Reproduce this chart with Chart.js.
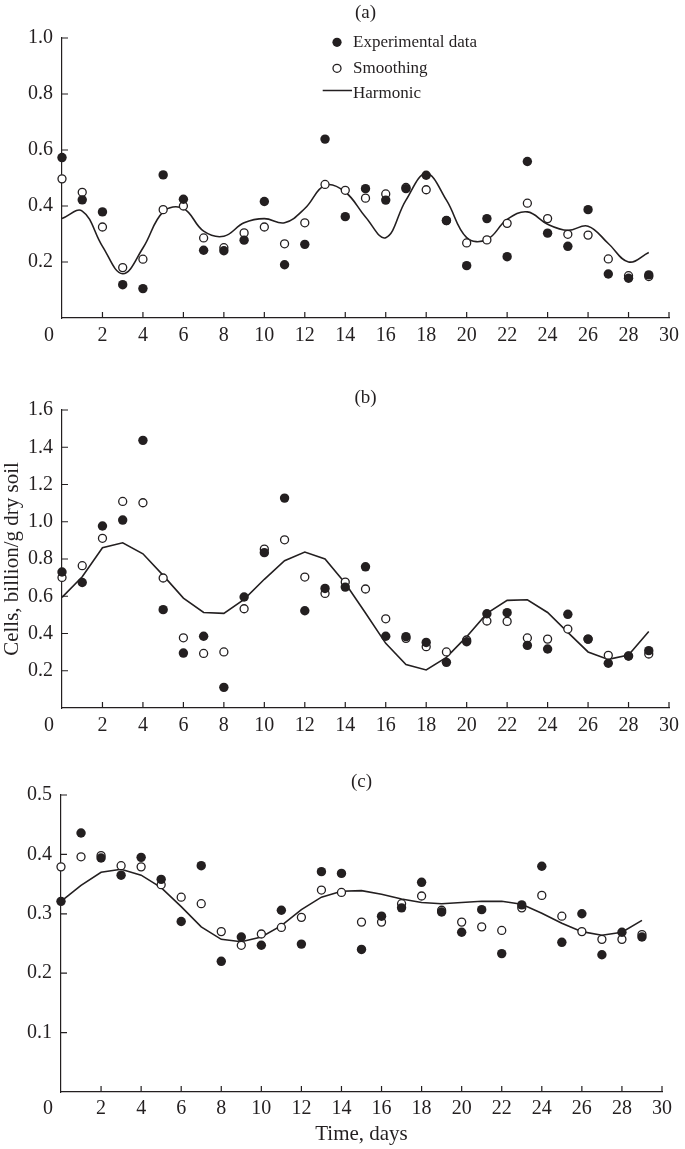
<!DOCTYPE html>
<html>
<head>
<meta charset="utf-8">
<script src="https://cdn.jsdelivr.net/npm/chart.js@4.4.1/dist/chart.umd.min.js"></script>
<style>
html,body{margin:0;padding:0;background:#fff;width:685px;height:1149px;overflow:hidden}
canvas{position:absolute;left:0;top:0}
</style>
</head>
<body>
<canvas id="ca" width="685" height="1149" style="width:685px;height:1149px"></canvas>
<canvas id="cb" width="685" height="1149" style="width:685px;height:1149px"></canvas>
<canvas id="cc" width="685" height="1149" style="width:685px;height:1149px"></canvas>
<script>
// ---------- data ----------
const days = [0,1,2,3,4,5,6,7,8,9,10,11,12,13,14,15,16,17,18,19,20,21,22,23,24,25,26,27,28,29];
const xTicks = [0,2,4,6,8,10,12,14,16,18,20,22,24,26,28,30];
const seriesNames = ['Experimental data', 'Smoothing', 'Harmonic'];
const panelLabels = ['(a)', '(b)', '(c)'];
const yTitle = 'Cells, billion/g dry soil';
const xTitle = 'Time, days';

const yTicksA = [0, 0.2, 0.4, 0.6, 0.8, 1.0];
const yTicksB = [0, 0.2, 0.4, 0.6, 0.8, 1.0, 1.2, 1.4, 1.6];
const yTicksC = [0, 0.1, 0.2, 0.3, 0.4, 0.5];

const aExp = [0.573,0.422,0.379,0.119,0.105,0.511,0.424,0.242,0.240,0.278,0.416,0.190,0.263,0.639,0.362,0.462,0.421,0.462,0.510,0.348,0.187,0.355,0.219,0.559,0.303,0.256,0.387,0.157,0.142,0.154];
const aSmooth = [0.497,0.449,0.325,0.180,0.210,0.387,0.400,0.286,0.251,0.304,0.325,0.265,0.340,0.477,0.456,0.428,0.443,0.466,0.458,0.348,0.268,0.279,0.338,0.410,0.355,0.299,0.296,0.211,0.151,0.148];
const aHarm = [0.355,0.382,0.256,0.158,0.250,0.379,0.391,0.310,0.292,0.340,0.355,0.340,0.391,0.474,0.450,0.361,0.287,0.421,0.516,0.421,0.287,0.280,0.352,0.379,0.335,0.313,0.328,0.266,0.200,0.234];

const bExp = [0.730,0.674,0.977,1.009,1.437,0.528,0.295,0.385,0.111,0.596,0.834,1.127,0.522,0.642,0.649,0.758,0.385,0.383,0.352,0.245,0.356,0.506,0.512,0.336,0.317,0.503,0.370,0.240,0.279,0.308];
const bSmooth = [0.701,0.764,0.911,1.109,1.102,0.698,0.377,0.293,0.301,0.533,0.853,0.903,0.703,0.615,0.676,0.639,0.479,0.374,0.329,0.301,0.365,0.467,0.465,0.376,0.370,0.424,0.370,0.283,0.279,0.290];
const bHarm = [0.594,0.705,0.860,0.887,0.828,0.712,0.590,0.513,0.508,0.583,0.691,0.791,0.837,0.800,0.670,0.510,0.347,0.233,0.204,0.272,0.383,0.508,0.578,0.581,0.513,0.406,0.301,0.261,0.284,0.411];

const cExp = [0.321,0.436,0.394,0.365,0.395,0.358,0.287,0.381,0.220,0.261,0.247,0.306,0.249,0.371,0.368,0.240,0.296,0.310,0.353,0.303,0.269,0.307,0.233,0.315,0.380,0.252,0.300,0.231,0.269,0.261];
const cSmooth = [0.379,0.396,0.398,0.381,0.379,0.349,0.328,0.317,0.270,0.247,0.266,0.277,0.294,0.340,0.336,0.286,0.286,0.317,0.330,0.306,0.286,0.278,0.272,0.310,0.331,0.296,0.270,0.257,0.257,0.265];
const cHarm = [0.321,0.348,0.370,0.375,0.365,0.344,0.312,0.278,0.257,0.253,0.261,0.280,0.307,0.328,0.338,0.339,0.333,0.325,0.319,0.317,0.319,0.321,0.321,0.316,0.301,0.284,0.270,0.264,0.269,0.289];

// ---------- style ----------
const INK = '#231f20';
const FONT = '"Liberation Serif", "Times New Roman", serif';
const W = 685, H = 1149;

function pts(vals) { return days.map((d, i) => ({x: d, y: vals[i]})); }

function makePanel(canvasId, g) {
  const plugin = {
    id: 'deco' + canvasId,
    afterDraw(chart) {
      const ctx = chart.ctx, a = chart.chartArea;
      const xs = chart.scales.x, ys = chart.scales.y;
      ctx.save();
      ctx.strokeStyle = INK;
      ctx.lineWidth = 1.2;
      ctx.beginPath();
      xTicks.forEach(v => {
        if (v === 0) return;
        const px = xs.getPixelForValue(v);
        ctx.moveTo(px, a.bottom); ctx.lineTo(px, a.bottom - 6);
      });
      g.yTicks.forEach(v => {
        if (v === 0) return;
        const py = ys.getPixelForValue(v);
        ctx.moveTo(a.left, py); ctx.lineTo(a.left + 6, py);
      });
      ctx.stroke();
      ctx.fillStyle = INK;
      ctx.textAlign = 'center';
      ctx.textBaseline = 'middle';
      ctx.font = '20px ' + FONT;
      ctx.fillText('0', a.left - 13, a.bottom + g.xPad + 12);
      ctx.font = '19px ' + FONT;
      ctx.fillText(g.label, (a.left + a.right) / 2, g.labelY);
      if (g.legend) {
        const ds = chart.data.datasets;
        ctx.font = '17px ' + FONT;
        ctx.textAlign = 'left';
        ctx.textBaseline = 'alphabetic';
        // filled marker
        ctx.beginPath(); ctx.arc(337, 42.3, 4.6, 0, Math.PI * 2); ctx.fill();
        ctx.fillText(ds[0].label, 353, 46.8);
        // open marker
        ctx.beginPath(); ctx.arc(337, 68.3, 4.0, 0, Math.PI * 2);
        ctx.fillStyle = '#fff'; ctx.fill();
        ctx.lineWidth = 1.3; ctx.stroke();
        ctx.fillStyle = INK;
        ctx.fillText(ds[1].label, 353, 72.8);
        // line
        ctx.beginPath(); ctx.moveTo(322.7, 90.5); ctx.lineTo(352, 90.5);
        ctx.lineWidth = 1.5; ctx.stroke();
        ctx.fillText(ds[2].label, 353, 98.4);
      }
      ctx.restore();
    }
  };

  const xScaleH = g.xTitle ? 56 : 40;
  return new Chart(document.getElementById(canvasId), {
    type: 'line',
    data: {
      datasets: [
        { label: seriesNames[0], data: pts(g.exp), showLine: false, order: 1, clip: false,
          pointRadius: 4.7, pointBorderWidth: 0, pointBackgroundColor: INK, pointBorderColor: INK,
          backgroundColor: INK, borderColor: INK },
        { label: seriesNames[1], data: pts(g.smooth), showLine: false, order: 2, clip: false,
          pointRadius: 4.0, pointBorderWidth: 1.3, pointBackgroundColor: '#fff', pointBorderColor: INK,
          backgroundColor: '#fff', borderColor: INK },
        { label: seriesNames[2], data: pts(g.harm), order: 3, clip: false,
          borderColor: INK, borderWidth: 1.6, pointRadius: 0, tension: g.tension, fill: false }
      ]
    },
    options: {
      responsive: false,
      animation: false,
      events: [],
      layout: { padding: { left: 0, top: g.top, right: W - g.right, bottom: H - g.bottom - xScaleH } },
      plugins: { legend: { display: false }, tooltip: { enabled: false }, title: { display: false } },
      scales: {
        x: {
          type: 'linear', min: 0, max: 30,
          afterBuildTicks: s => { s.ticks = xTicks.map(v => ({ value: v })); },
          afterFit: s => { s.height = xScaleH; },
          grid: { display: false, drawTicks: false },
          border: { display: true, color: INK, width: 1.2 },
          ticks: { color: INK, font: { family: FONT, size: 20 }, padding: g.xPad, maxRotation: 0, autoSkip: false,
                   callback: v => v === 0 ? '' : String(v) },
          title: g.xTitle ? { display: true, text: g.xTitle, color: INK, font: { family: FONT, size: 21 },
                   padding: { top: 0, bottom: 1 } } : { display: false }
        },
        y: {
          type: 'linear', min: 0, max: g.yTicks[g.yTicks.length - 1],
          afterBuildTicks: s => { s.ticks = g.yTicks.map(v => ({ value: v })); },
          afterFit: s => { s.width = g.left; },
          grid: { display: false, drawTicks: false },
          border: { display: true, color: INK, width: 1.2 },
          ticks: { color: INK, font: { family: FONT, size: 20 }, padding: 9, autoSkip: false,
                   callback: v => v === 0 ? '' : Number(v).toFixed(1) },
          title: g.yTitle ? { display: true, text: g.yTitle, color: INK, font: { family: FONT, size: 21 },
                   padding: { top: 0, bottom: 0 } } : { display: false }
        }
      }
    },
    plugins: [plugin]
  });
}

makePanel('ca', { left: 62, right: 674, top: 38, bottom: 318, xPad: 6, yTicks: yTicksA,
  exp: aExp, smooth: aSmooth, harm: aHarm, tension: 0.4, label: panelLabels[0], labelY: 13.3, legend: true });
makePanel('cb', { left: 62, right: 672, top: 410, bottom: 708, xPad: 6, yTicks: yTicksB,
  exp: bExp, smooth: bSmooth, harm: bHarm, tension: 0, label: panelLabels[1], labelY: 398, yTitle: yTitle });
makePanel('cc', { left: 61, right: 662, top: 795, bottom: 1092, xPad: 5, yTicks: yTicksC,
  exp: cExp, smooth: cSmooth, harm: cHarm, tension: 0, label: panelLabels[2], labelY: 782.5, xTitle: xTitle });
</script>
</body>
</html>
